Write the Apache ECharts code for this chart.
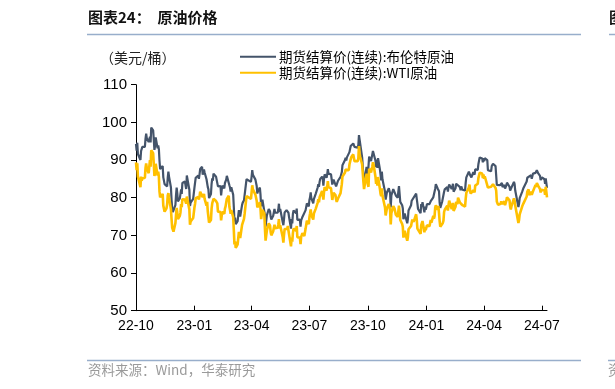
<!DOCTYPE html>
<html>
<head>
<meta charset="utf-8">
<script src="https://cdn.jsdelivr.net/npm/echarts@6/dist/echarts.min.js"></script>
<style>
html,body{margin:0;padding:0;background:#fff;}
#chart{width:615px;height:389px;}
</style>
</head>
<body>
<div id="chart"></div>
<script>
// ---- data ----
const seriesNames = ['期货结算价(连续):布伦特原油', '期货结算价(连续):WTI原油'];
const tickDates = ['2022-10-11','2023-01-11','2023-04-11','2023-07-11','2023-10-11','2024-01-11','2024-04-11','2024-07-11'];
const tickLabels = ['22-10','23-01','23-04','23-07','23-10','24-01','24-04','24-07'];
const yTicks = [50, 60, 70, 80, 90, 100, 110];

const tradingDays = [
  ['2022-10', [11,12,13,14,17,18,19,20,21,24,25,26,27,28,31]],
  ['2022-11', [1,2,3,4,7,8,9,10,11,14,15,16,17,18,21,22,23,25,28,29,30]],
  ['2022-12', [1,2,5,6,7,8,9,12,13,14,15,16,19,20,21,22,23,27,28,29,30]],
  ['2023-01', [3,4,5,6,9,10,11,12,13,17,18,19,20,23,24,25,26,27,30,31]],
  ['2023-02', [1,2,3,6,7,8,9,10,13,14,15,16,17,21,22,23,24,27,28]],
  ['2023-03', [1,2,3,6,7,8,9,10,13,14,15,16,17,20,21,22,23,24,27,28,29,30,31]],
  ['2023-04', [3,4,5,6,10,11,12,13,14,17,18,19,20,21,24,25,26,27,28]],
  ['2023-05', [1,2,3,4,5,8,9,10,11,12,15,16,17,18,19,22,23,24,25,26,30,31]],
  ['2023-06', [1,2,5,6,7,8,9,12,13,14,15,16,20,21,22,23,26,27,28,29,30]],
  ['2023-07', [3,5,6,7,10,11,12,13,14,17,18,19,20,21,24,25,26,27,28,31]],
  ['2023-08', [1,2,3,4,7,8,9,10,11,14,15,16,17,18,21,22,23,24,25,28,29,30,31]],
  ['2023-09', [1,5,6,7,8,11,12,13,14,15,18,19,20,21,22,25,26,27,28,29]],
  ['2023-10', [2,3,4,5,6,9,10,11,12,13,16,17,18,19,20,23,24,25,26,27,30,31]],
  ['2023-11', [1,2,3,6,7,8,9,10,13,14,15,16,17,20,21,22,24,27,28,29,30]],
  ['2023-12', [1,4,5,6,7,8,11,12,13,14,15,18,19,20,21,22,26,27,28,29]],
  ['2024-01', [2,3,4,5,8,9,10,11,12,16,17,18,19,22,23,24,25,26,29,30,31]],
  ['2024-02', [1,2,5,6,7,8,9,12,13,14,15,16,20,21,22,23,26,27,28,29]],
  ['2024-03', [1,4,5,6,7,8,11,12,13,14,15,18,19,20,21,22,25,26,27,28]],
  ['2024-04', [1,2,3,4,5,8,9,10,11,12,15,16,17,18,19,22,23,24,25,26,29,30]],
  ['2024-05', [1,2,3,6,7,8,9,10,13,14,15,16,17,20,21,22,23,24,28,29,30,31]],
  ['2024-06', [3,4,5,6,7,10,11,12,13,14,17,18,20,21,24,25,26,27,28]],
  ['2024-07', [1,2,3,5,8,9,10,11,12,15,16,17,18,19]]
];

const brent = [
  94.3,92.5,94.6,91.6,91.6,90.0,92.4,92.4,93.5,93.3,93.5,95.7,97.0,95.8,94.8,
  94.7,96.2,94.7,98.6,97.9,95.4,92.7,93.7,96.0,93.1,93.9,92.9,89.8,87.6,87.5,88.4,85.4,83.6,83.2,83.0,85.4,
  86.9,85.6,82.7,79.4,77.2,76.2,76.1,78.0,80.7,82.7,81.2,79.0,79.8,80.0,82.2,81.0,83.9,84.3,83.3,82.3,85.9,
  82.1,77.8,78.7,78.6,79.7,80.1,82.7,84.0,85.3,85.9,85.0,86.2,87.6,88.2,86.1,86.1,87.5,86.7,84.9,84.5,
  82.8,82.2,79.9,81.0,83.7,85.1,84.5,86.4,86.6,85.6,85.4,85.1,83.0,83.1,80.6,82.2,83.2,82.5,83.9,
  84.3,84.8,85.8,86.2,83.3,82.7,81.6,82.8,80.8,77.5,73.7,74.7,73.0,73.8,75.3,76.7,75.9,75.0,78.1,78.7,78.3,79.3,79.8,
  84.9,84.9,85.0,85.1,84.2,85.6,87.3,86.1,86.3,84.8,84.8,83.1,81.1,81.7,82.7,80.8,77.7,78.4,79.5,
  79.3,75.3,72.3,72.5,75.3,77.0,77.4,76.4,75.0,74.2,75.2,74.9,77.0,76.0,75.6,76.0,76.8,78.4,76.3,77.0,73.5,72.7,
  74.3,76.1,76.7,76.3,77.0,76.0,74.8,71.8,74.3,73.2,75.7,76.6,75.9,77.1,74.1,73.9,74.2,72.3,74.0,74.3,74.9,
  74.7,76.7,76.5,78.5,77.7,79.4,80.1,81.4,79.9,78.5,79.6,79.5,79.6,81.1,82.7,83.6,82.9,84.2,85.0,85.6,
  84.9,83.2,85.1,86.2,85.3,86.2,87.6,86.4,86.8,86.2,84.9,83.5,84.1,84.8,84.5,83.0,83.2,83.4,84.5,84.4,85.5,85.9,86.8,
  88.6,90.0,90.6,89.9,90.7,90.6,92.1,91.9,93.7,93.9,94.4,94.3,93.5,93.3,93.3,93.3,94.0,96.6,95.4,95.3,
  90.7,90.9,85.8,84.1,84.6,88.2,87.7,85.8,86.0,90.9,89.7,89.9,91.5,92.4,92.2,89.8,88.1,90.1,87.9,90.5,87.5,87.4,
  84.6,86.9,84.9,85.2,81.6,79.5,80.0,81.4,82.5,82.5,81.2,77.4,80.6,82.3,82.5,82.0,80.6,80.0,81.7,83.1,82.8,
  78.9,78.0,77.2,74.3,74.1,75.8,76.0,73.2,74.3,76.6,76.6,78.0,79.2,79.7,79.4,79.1,81.1,79.7,78.4,77.0,
  75.9,78.3,77.6,78.8,76.1,77.6,76.8,77.4,78.3,78.3,77.9,79.1,78.6,80.1,79.6,80.0,82.4,83.6,82.4,82.9,81.7,
  78.7,77.3,79.0,78.6,79.2,81.6,82.2,82.0,82.8,81.6,82.9,83.5,82.3,83.0,83.7,81.6,82.5,83.7,83.7,83.6,
  83.6,82.8,82.0,83.0,83.1,82.1,82.2,81.9,84.0,85.4,85.3,86.9,87.4,86.0,85.8,85.4,86.8,86.3,86.1,87.5,
  87.4,88.9,89.4,90.7,91.2,90.4,89.4,90.5,89.7,90.5,90.1,90.0,87.3,87.1,87.3,87.0,88.4,88.0,89.0,89.5,88.4,87.9,
  83.4,83.7,83.0,83.3,83.2,83.6,83.9,82.8,83.4,82.4,82.8,83.3,84.0,83.7,82.9,81.9,81.4,82.1,84.2,83.6,81.9,81.6,
  78.4,77.5,78.4,79.9,79.6,81.6,81.9,82.6,82.8,82.6,84.3,85.3,85.7,85.2,86.0,85.0,85.3,86.4,86.4,
  86.6,86.2,87.3,86.5,85.8,84.7,85.1,85.4,85.0,84.9,83.7,85.1,85.1,82.6
];

const wti = [
  89.4,87.3,89.1,85.6,85.5,82.8,85.6,84.5,85.1,84.6,85.3,87.9,89.1,87.9,86.5,
  88.4,90.0,88.2,92.6,91.8,88.9,85.8,86.5,89.0,85.9,86.9,85.6,81.6,80.1,79.7,81.0,77.9,76.3,77.2,78.2,80.6,
  81.2,80.0,76.9,74.3,72.0,71.5,71.0,73.2,75.4,77.3,76.1,74.3,75.2,76.1,78.3,77.5,79.6,79.5,79.0,78.4,80.3,
  76.9,72.8,73.7,73.8,74.6,75.1,77.4,78.4,79.9,80.2,79.5,80.3,81.6,81.6,80.1,80.2,81.0,79.7,77.9,78.9,
  76.4,75.9,73.4,74.1,77.1,78.5,78.1,79.7,80.1,79.1,78.6,78.5,76.3,76.2,74.0,75.4,76.3,75.7,77.1,
  77.7,78.2,79.7,80.5,77.6,76.7,75.7,76.7,74.8,71.3,67.6,68.4,66.7,67.6,69.3,70.9,70.0,69.3,72.8,73.2,73.0,74.4,75.7,
  80.4,80.7,80.6,80.7,79.7,81.5,83.3,82.2,82.5,80.8,80.9,79.2,77.4,77.9,78.8,77.1,74.3,74.8,76.8,
  75.7,71.7,68.6,68.6,71.3,73.2,73.7,72.6,70.9,70.0,71.1,70.9,72.8,71.9,71.7,72.0,72.9,74.3,71.8,72.7,69.5,68.1,
  70.1,71.7,72.2,71.7,72.5,71.3,70.2,67.1,69.4,68.3,70.6,71.8,71.2,72.5,69.5,69.2,69.4,67.7,69.6,69.9,70.6,
  69.8,71.8,71.8,73.9,73.0,74.8,75.8,76.9,75.4,74.2,75.8,75.4,75.6,77.1,78.7,79.6,78.8,80.1,80.6,81.8,
  81.4,79.5,81.6,82.8,81.9,82.9,84.4,82.8,83.2,82.5,81.0,79.4,80.4,81.3,80.7,79.6,78.9,79.1,79.8,80.1,81.2,81.6,83.6,
  85.6,86.7,87.5,87.9,87.5,87.3,88.8,88.5,90.2,90.8,91.5,91.2,89.7,89.6,90.0,89.7,90.4,93.7,91.7,90.8,
  88.8,89.2,84.2,82.3,82.8,86.4,86.0,83.5,82.9,87.7,86.7,86.7,88.3,89.4,88.8,85.5,83.7,85.4,83.2,85.5,82.3,81.0,
  80.4,82.5,80.5,80.8,77.4,75.3,75.7,77.2,78.3,78.3,76.7,72.9,75.9,77.8,77.8,77.1,75.5,74.9,76.4,77.9,76.0,
  74.1,73.0,72.3,69.4,69.3,71.2,71.3,68.6,69.5,71.6,71.4,72.5,73.4,74.2,73.9,73.6,75.6,74.1,71.8,71.7,
  70.4,72.7,72.2,73.8,70.8,72.2,71.4,72.0,72.7,72.4,72.6,74.1,73.4,75.2,74.4,75.1,77.4,78.0,76.8,77.8,75.9,
  73.8,72.3,72.8,73.3,73.9,76.2,76.8,76.9,77.9,76.6,78.0,79.2,77.0,77.9,78.6,76.5,77.6,78.9,78.5,78.3,
  80.0,78.7,78.2,79.1,78.9,78.0,77.9,77.6,79.7,81.3,81.0,82.7,83.5,81.7,81.1,80.6,82.0,81.6,81.4,83.2,
  83.7,85.2,85.4,86.6,86.9,86.4,85.2,86.2,85.0,85.7,85.4,85.4,82.7,82.7,83.1,82.9,83.4,82.8,83.6,83.9,82.6,81.9,
  79.0,79.0,78.1,78.5,78.4,79.0,79.3,78.3,79.1,78.0,78.6,79.2,80.1,79.8,79.3,77.6,76.9,77.7,79.8,79.2,77.9,77.0,
  74.2,73.3,74.1,75.6,75.5,77.7,77.9,78.5,78.6,78.5,80.3,81.6,82.2,80.7,81.6,80.8,80.9,81.7,81.5,
  83.4,82.8,83.9,83.2,82.3,81.4,82.1,82.6,82.2,81.9,80.8,82.9,82.8,80.1
];

// ---- build ----
const toT = s => Date.parse(s + 'T00:00:00Z');
const dates = [];
tradingDays.forEach(([ym, days]) => days.forEach(d => dates.push(ym + '-' + String(d).padStart(2, '0'))));
const n = Math.min(dates.length, brent.length, wti.length);
const brentData = [], wtiData = [];
for (let i = 0; i < n; i++) { brentData.push([toT(dates[i]), brent[i]]); wtiData.push([toT(dates[i]), wti[i]]); }

const tickTimes = tickDates.map(toT);
const FONT = "'Liberation Sans', Arial, 'Noto Sans CJK SC', sans-serif";
const CJK = "'Noto Sans CJK SC', 'Liberation Sans', sans-serif";
const BRENT_COLOR = '#44546A';
const WTI_COLOR = '#FFC000';
const RULE_COLOR = '#98AECB';

const chart = echarts.init(document.getElementById('chart'), null, { renderer: 'canvas' });
chart.setOption({
  animation: false,
  backgroundColor: '#ffffff',
  textStyle: { fontFamily: FONT },
  grid: { left: 136, right: 68, top: 84.7, bottom: 78.3, containLabel: false },
  legend: {
    orient: 'vertical',
    left: 240, top: 50, padding: 0,
    itemWidth: 36, itemHeight: 14, itemGap: 2.5,
    icon: 'path://M0,6 L36,6 L36,8 L0,8 Z',
    textStyle: { fontFamily: CJK, fontSize: 13.5, color: '#000', padding: [0, 0, 0, -2] },
    data: [
      { name: seriesNames[0], itemStyle: { color: BRENT_COLOR } },
      { name: seriesNames[1], itemStyle: { color: WTI_COLOR } }
    ]
  },
  xAxis: {
    type: 'value',
    min: toT(dates[0]),
    max: toT(dates[n - 1]),
    axisLine: { show: true, lineStyle: { color: '#000', width: 1 } },
    axisTick: { show: true, inside: true, length: 5, lineStyle: { color: '#000' }, customValues: tickTimes },
    axisLabel: {
      customValues: tickTimes,
      fontSize: 14, color: '#000', margin: 8, fontFamily: FONT,
      formatter: function (v) {
        let best = 0, bd = Infinity;
        tickTimes.forEach((t, i) => { const d = Math.abs(t - v); if (d < bd) { bd = d; best = i; } });
        return tickLabels[best];
      }
    },
    splitLine: { show: false }
  },
  yAxis: {
    type: 'value',
    min: yTicks[0], max: yTicks[yTicks.length - 1], interval: 10,
    axisLine: { show: true, lineStyle: { color: '#000', width: 1 } },
    axisTick: { show: true, inside: false, length: 5, lineStyle: { color: '#000' } },
    axisLabel: { fontSize: 15, color: '#000', margin: 9, fontFamily: FONT },
    splitLine: { show: false }
  },
  series: [
    {
      name: seriesNames[0], type: 'line', data: brentData, symbol: 'none', showSymbol: false,
      lineStyle: { color: BRENT_COLOR, width: 2.2 }, itemStyle: { color: BRENT_COLOR }, z: 2
    },
    {
      name: seriesNames[1], type: 'line', data: wtiData, symbol: 'none', showSymbol: false,
      lineStyle: { color: WTI_COLOR, width: 2.6 }, itemStyle: { color: WTI_COLOR }, z: 3
    }
  ],
  graphic: [
    { type: 'text', left: 88, top: 10, style: { text: '图表24：  原油价格', font: "bold 15px 'Noto Sans CJK SC', sans-serif", fill: '#111' } },
    { type: 'line', shape: { x1: 87, y1: 34.5, x2: 581, y2: 34.5 }, style: { stroke: RULE_COLOR, lineWidth: 1.5 } },
    { type: 'text', left: 609, top: 10, style: { text: '图表25', font: "bold 15px 'Noto Sans CJK SC', sans-serif", fill: '#111' } },
    { type: 'line', shape: { x1: 609, y1: 34.5, x2: 615, y2: 34.5 }, style: { stroke: RULE_COLOR, lineWidth: 1.5 } },
    { type: 'text', left: 100, top: 51, style: { text: '（美元/桶）', font: "14px 'Noto Sans CJK SC', sans-serif", fill: '#222' } },
    { type: 'line', shape: { x1: 87, y1: 360.5, x2: 581, y2: 360.5 }, style: { stroke: RULE_COLOR, lineWidth: 1.5 } },
    { type: 'line', shape: { x1: 608, y1: 360.5, x2: 615, y2: 360.5 }, style: { stroke: RULE_COLOR, lineWidth: 1.5 } },
    { type: 'text', left: 88, top: 363.5, style: { text: '资料来源：Wind，华泰研究', font: "13.5px 'Noto Sans CJK SC', sans-serif", fill: '#9a9a9a' } },
    { type: 'text', left: 608, top: 363.5, style: { text: '资料', font: "13.5px 'Noto Sans CJK SC', sans-serif", fill: '#9a9a9a' } }
  ]
});
</script>
</body>
</html>
